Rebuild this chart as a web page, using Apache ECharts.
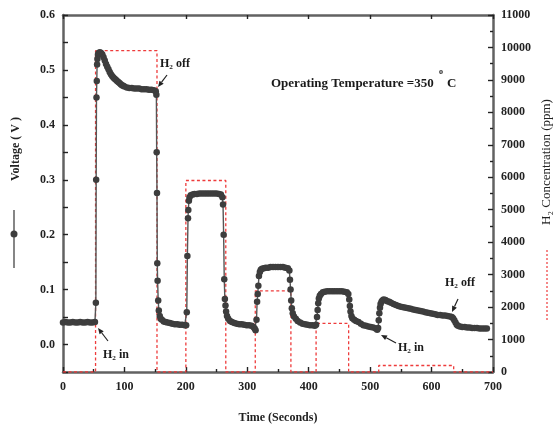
<!DOCTYPE html>
<html><head><meta charset="utf-8">
<script src="https://cdn.jsdelivr.net/npm/echarts/dist/echarts.min.js"></script>
<style>html,body{margin:0;padding:0;background:#fff}#c{width:556px;height:430px}</style>
</head><body><div id="c"></div>
<script>
// Voltage response [time (s), voltage (V)]
const voltage = [
[0,0.040],[4,0.041],[8,0.040],[12,0.040],[16,0.041],[20,0.040],[24,0.040],[28,0.041],[32,0.040],[36,0.040],[40,0.041],[44,0.040],[48,0.040],[52,0.041],
[53.5,0.076],[54,0.300],[54.5,0.450],[55,0.480],[55.5,0.510],[56,0.520],[57,0.528],[58,0.531],[60,0.532],[62,0.531],[64,0.528],[66,0.523],[68,0.517],[70,0.511],[72,0.506],[74,0.501],[76,0.496],[78,0.492],[80,0.489],[82,0.486],[84,0.484],[86,0.482],[88,0.480],[90,0.478],[92,0.476],[94,0.474],[96,0.472],[98,0.471],[100,0.470],[104,0.468],[108,0.467],[112,0.467],[116,0.466],[120,0.466],[124,0.466],[128,0.465],[132,0.465],[136,0.465],[140,0.464],[144,0.464],[148,0.463],[151,0.461],
[152,0.455],[152.5,0.350],[153,0.276],[153.5,0.148],[154,0.116],[155,0.080],[156,0.062],[157.5,0.052],[159,0.047],[161,0.045],[164,0.042],[167,0.041],[170,0.040],[174,0.039],[178,0.038],[182,0.037],[186,0.037],[190,0.036],[194,0.036],[198,0.035],[200.5,0.035],
[201.5,0.059],[202.5,0.161],[203.5,0.230],[204,0.245],[205,0.262],[206,0.268],[208,0.272],[211,0.273],[214,0.274],[218,0.274],[222,0.275],[226,0.275],[230,0.275],[234,0.275],[238,0.275],[242,0.275],[246,0.275],[250,0.275],[254,0.274],[257,0.273],[259.5,0.268],
[260.5,0.255],[261.5,0.200],[262.5,0.119],[263.5,0.083],[264.5,0.071],[265.5,0.060],[267,0.052],[269,0.047],[272,0.043],[275,0.041],[279,0.039],[283,0.038],[287,0.037],[291,0.037],[295,0.036],[299,0.035],[303,0.035],[307,0.034],[310,0.032],[312,0.029],[313.5,0.026],
[315,0.045],[316,0.078],[317,0.092],[318,0.107],[319,0.125],[320.5,0.132],[322,0.136],[324,0.138],[327,0.139],[330,0.140],[334,0.140],[338,0.141],[342,0.141],[346,0.141],[350,0.141],[354,0.141],[358,0.141],[362,0.140],[366,0.139],[368.5,0.135],
[369.5,0.118],[370.5,0.100],[371.5,0.080],[372.5,0.066],[374,0.057],[376,0.051],[379,0.047],[382,0.043],[386,0.040],[390,0.038],[394,0.037],[398,0.036],[402,0.035],[406,0.035],[410,0.034],[412,0.036],
[413.5,0.050],[414.5,0.063],[415.5,0.075],[416.5,0.084],[418,0.089],[420,0.092],[423,0.095],[426,0.096],[430,0.097],[434,0.097],[438,0.097],[442,0.097],[446,0.097],[450,0.097],[454,0.097],[458,0.096],[462,0.095],[464.5,0.092],
[466,0.082],[467,0.070],[468,0.060],[469.5,0.052],[471,0.048],[474,0.045],[477,0.043],[481,0.041],[485,0.038],[489,0.035],[493,0.034],[497,0.033],[501,0.032],[505,0.031],[509,0.029],[511.5,0.027],
[513,0.030],[514,0.044],[515,0.057],[516,0.067],[517,0.074],[518.5,0.078],[520,0.080],[522,0.082],[525,0.081],[528,0.079],[531,0.078],[534,0.076],[538,0.074],[542,0.072],[546,0.070],[550,0.069],[554,0.068],[558,0.067],[562,0.066],[566,0.065],[570,0.064],[574,0.063],[578,0.062],[582,0.061],[586,0.060],[590,0.059],[594,0.058],[598,0.057],[602,0.056],[606,0.055],[610,0.054],[614,0.054],[618,0.053],[622,0.053],[626,0.052],[630,0.051],[633,0.050],
[635,0.048],[637,0.044],[639,0.040],[641,0.036],[643,0.034],[646,0.033],[650,0.032],[654,0.032],[658,0.031],[662,0.031],[666,0.030],[670,0.030],[674,0.030],[678,0.029],[682,0.029],[686,0.029],[690,0.029]
];

// H2 pulses: switch-on time, switch-off time, concentration (ppm)
const pulseOn   = [53, 200, 313, 412, 514];
const pulseOff  = [153, 265, 371, 465, 636];
const pulseConc = [9900, 5900, 2500, 1500, 200];

const h2 = [[0, 0]];
for (let i = 0; i < pulseOn.length; i++) {
  h2.push([pulseOn[i], 0], [pulseOn[i], pulseConc[i]], [pulseOff[i], pulseConc[i]], [pulseOff[i], 0]);
}
h2.push([700, 0]);

const FONT = 'Liberation Serif';
const axisLineStyle = {color: '#626262', width: 2.5};
const tickStyle = {color: '#222', width: 1.4};
const labelStyle = {fontFamily: FONT, fontWeight: 'bold', fontSize: 12, color: '#222'};

function arrow(x1, y1, x2, y2) {
  const a = Math.atan2(y2 - y1, x2 - x1), L = 6, W = 2.6;
  const bx = x2 - L * Math.cos(a), by = y2 - L * Math.sin(a);
  const px = -Math.sin(a) * W, py = Math.cos(a) * W;
  return [
    {type: 'line', shape: {x1: x1, y1: y1, x2: bx, y2: by}, style: {stroke: '#222', lineWidth: 1.2}},
    {type: 'polygon', shape: {points: [[x2, y2], [bx + px, by + py], [bx - px, by - py]]}, style: {fill: '#222'}}
  ];
}
function txt(s, x, y, size, weight) {
  return {type: 'text', x: x, y: y, style: {text: s, font: (weight || 'bold') + ' ' + (size || 12) + 'px "' + FONT + '"', fill: '#1a1a1a', textVerticalAlign: 'middle'}};
}

const chart = echarts.init(document.getElementById('c'), null, {renderer: 'canvas'});
chart.setOption({
  animation: false,
  backgroundColor: '#fff',
  grid: {left: 63, right: 63, top: 15, bottom: 58},
  xAxis: [{
    type: 'value', min: 0, max: 700, interval: 100, position: 'bottom',
    axisLine: {onZero: false, lineStyle: axisLineStyle},
    axisTick: {inside: true, length: 5, lineStyle: tickStyle},
    minorTick: {show: true, splitNumber: 2, length: 3, lineStyle: tickStyle},
    splitLine: {show: false},
    axisLabel: Object.assign({margin: 9}, labelStyle),
    name: 'Time (Seconds)', nameLocation: 'middle', nameGap: 40,
    nameTextStyle: {fontFamily: FONT, fontWeight: 'bold', fontSize: 12, color: '#222'}
  }, {
    type: 'value', min: 0, max: 700, interval: 100, position: 'top',
    axisLine: {onZero: false, lineStyle: axisLineStyle},
    axisTick: {inside: true, length: 4, lineStyle: tickStyle},
    splitLine: {show: false}, axisLabel: {show: false}
  }],
  yAxis: [{
    type: 'value', min: -0.05, max: 0.6, interval: 0.05, position: 'left',
    axisLine: {show: true, onZero: false, lineStyle: axisLineStyle},
    axisTick: {inside: true, length: 5, lineStyle: tickStyle},
    splitLine: {show: false},
    axisLabel: Object.assign({margin: 8, formatter: function (v) {
      const k = Math.round(v * 100);
      return (k % 10 === 0) ? (k / 100).toFixed(1) : '';
    }}, labelStyle)
  }, {
    type: 'value', min: 0, max: 11000, interval: 1000, position: 'right',
    axisLine: {show: true, onZero: false, lineStyle: axisLineStyle},
    axisTick: {inside: true, length: 5, lineStyle: tickStyle},
    minorTick: {show: true, splitNumber: 2, length: 3, lineStyle: tickStyle},
    splitLine: {show: false},
    axisLabel: Object.assign({margin: 8, formatter: function (v) { return String(Math.round(v)); }}, labelStyle)
  }],
  series: [{
    name: 'H2 Concentration', type: 'line', xAxisIndex: 0, yAxisIndex: 1, data: h2,
    symbol: 'none', z: 1,
    lineStyle: {color: '#ee3b3b', width: 1.3, type: [3, 2.5]}
  }, {
    name: 'Voltage', type: 'line', xAxisIndex: 0, yAxisIndex: 0, data: voltage,
    symbol: 'circle', symbolSize: 6.5, z: 3,
    itemStyle: {color: '#3d3d3d'},
    lineStyle: {color: '#555', width: 1.4}
  }],
  graphic: [].concat(
    [
      {type: 'text', x: 16, y: 149, rotation: Math.PI / 2, style: {text: 'Voltage ( V )', font: 'bold 12px "' + FONT + '"', fill: '#222', textAlign: 'center', textVerticalAlign: 'middle'}},
      {type: 'line', shape: {x1: 14, y1: 210, x2: 14, y2: 268}, style: {stroke: '#444', lineWidth: 1.3}},
      {type: 'circle', shape: {cx: 14, cy: 234, r: 3.5}, style: {fill: '#3d3d3d'}},
      {type: 'text', x: 547, y: 162, rotation: Math.PI / 2, style: {text: 'H₂ Concentration (ppm)', font: '13px "' + FONT + '"', fill: '#222', textAlign: 'center', textVerticalAlign: 'middle'}},
      {type: 'line', shape: {x1: 547, y1: 250, x2: 547, y2: 320}, style: {stroke: '#ee3b3b', lineWidth: 1.2, lineDash: [2, 2]}},
      txt('H₂ off', 160, 64),
      txt('H₂ in', 103, 355),
      txt('Operating Temperature =350', 271, 84, 13),
      txt('o', 439, 72, 8),
      txt('C', 447, 84, 13),
      txt('H₂ off', 445, 283),
      txt('H₂ in', 398, 348)
    ],
    arrow(167, 75, 158, 87),
    arrow(108, 341, 98, 328),
    arrow(458, 299, 452, 312),
    arrow(396, 343, 381, 335)
  )
});
</script>
</body></html>
